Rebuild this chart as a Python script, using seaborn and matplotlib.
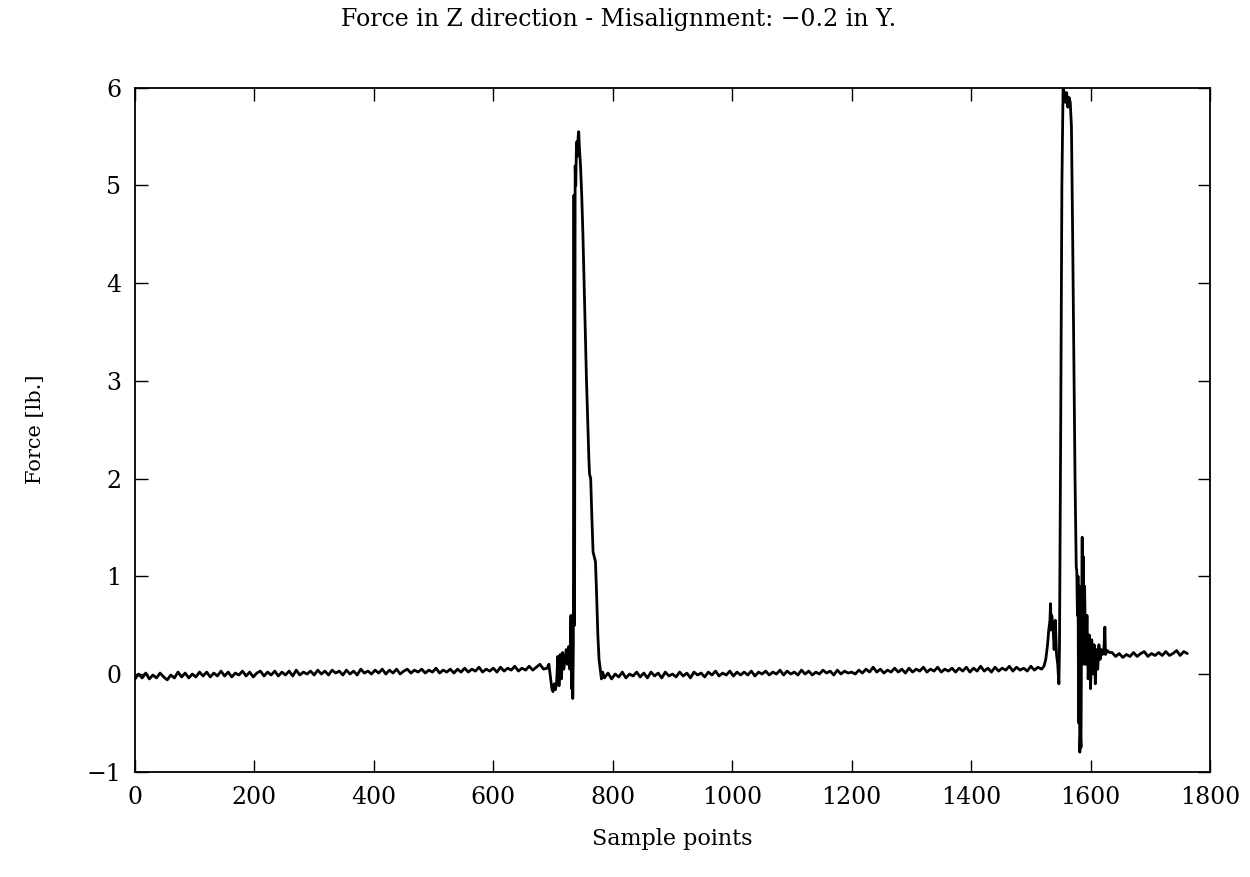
import numpy as np
import pandas as pd
import matplotlib
matplotlib.use("Agg")
import matplotlib.pyplot as plt
import seaborn as sns

# ---------------- data ----------------
# baseline before first contact, samples 0..684 every 6
base1_samples = list(range(0, 690, 6))
base1_force = [
    -0.05, 0.00, -0.04, 0.01, -0.05, -0.01, -0.04, 0.01, -0.03, -0.06,
    -0.01, -0.04, 0.02, -0.03, 0.01, -0.04, 0.00, -0.03, 0.02, -0.02,
    0.02, -0.03, 0.01, -0.02, 0.03, -0.02, 0.02, -0.03, 0.01, -0.01,
    0.03, -0.02, 0.02, -0.03, 0.01, 0.03, -0.02, 0.02, -0.01, 0.03,
    -0.02, 0.02, -0.01, 0.03, -0.02, 0.04, -0.01, 0.02, 0.00, 0.03,
    -0.01, 0.04, 0.00, 0.03, -0.01, 0.04, 0.01, 0.03, -0.01, 0.04,
    0.00, 0.03, -0.01, 0.05, 0.01, 0.03, 0.00, 0.04, 0.01, 0.05,
    0.00, 0.04, 0.01, 0.05, 0.00, 0.03, 0.05, 0.01, 0.04, 0.02,
    0.05, 0.01, 0.04, 0.02, 0.06, 0.01, 0.04, 0.02, 0.05, 0.01,
    0.05, 0.02, 0.06, 0.02, 0.05, 0.03, 0.07, 0.02, 0.05, 0.03,
    0.06, 0.02, 0.07, 0.03, 0.06, 0.04, 0.08, 0.03, 0.06, 0.04,
    0.08, 0.04, 0.07, 0.10, 0.05,
]

# first force event
event1_samples = [690, 693, 696, 698, 700, 702, 704, 706, 708, 710, 712, 714,
                  716, 718, 720, 722, 724, 726, 728, 730, 731, 732, 733, 734,
                  735, 736, 737, 738, 739, 740, 741, 742, 743, 744, 746, 748,
                  750, 752, 754, 756, 758, 760, 761, 763, 765, 767, 769, 771,
                  773, 775, 777, 779, 781, 783]
event1_force = [0.06, 0.10, -0.05, -0.15, -0.18, -0.10, -0.16, -0.08, 0.18, -0.12,
                0.20, -0.05, 0.22, 0.05, 0.15, 0.25, 0.10, 0.28, 0.05, 0.60,
                -0.15, 0.40, -0.25, 0.30, 4.90, 0.50, 5.20, 5.00, 5.35, 5.45,
                5.30, 5.50, 5.55, 5.40, 5.20, 4.90, 4.50, 4.00, 3.50, 3.00,
                2.60, 2.20, 2.05, 2.00, 1.60, 1.25, 1.20, 1.15, 0.80, 0.40,
                0.15, 0.05, -0.05, 0.02]

# baseline between events, samples 786..1518 every 6
base2_samples = list(range(786, 1519, 6))
base2_force = [
    -0.04, 0.01, -0.05, 0.00, -0.03, 0.02, -0.04, 0.00, -0.02, 0.02,
    -0.03, 0.01, -0.04, 0.02, -0.02, 0.01, -0.04, 0.02, -0.02, 0.00,
    -0.03, 0.02, -0.02, 0.01, -0.04, 0.02, -0.01, 0.01, -0.03, 0.02,
    -0.01, 0.03, -0.02, 0.01, -0.01, 0.03, -0.02, 0.02, -0.01, 0.02,
    -0.01, 0.03, -0.02, 0.02, 0.00, 0.03, -0.01, 0.02, 0.00, 0.04,
    -0.01, 0.03, 0.00, 0.02, -0.01, 0.04, 0.00, 0.03, -0.01, 0.02,
    0.00, 0.04, 0.01, 0.03, -0.01, 0.04, 0.00, 0.03, 0.01, 0.02,
    0.00, 0.04, 0.01, 0.05, 0.02, 0.07, 0.02, 0.05, 0.01, 0.04,
    0.02, 0.06, 0.02, 0.05, 0.01, 0.06, 0.02, 0.05, 0.03, 0.07,
    0.02, 0.05, 0.03, 0.07, 0.02, 0.05, 0.03, 0.06, 0.02, 0.06,
    0.03, 0.07, 0.02, 0.06, 0.03, 0.08, 0.03, 0.06, 0.02, 0.07,
    0.03, 0.06, 0.04, 0.08, 0.03, 0.07, 0.04, 0.06, 0.03, 0.08,
    0.04, 0.07, 0.05,
]

# second force event
event2_samples = [1522, 1525, 1528, 1530, 1532, 1533, 1534, 1535, 1537, 1539,
                  1541, 1543, 1545, 1547, 1548, 1550, 1552, 1554, 1556, 1558,
                  1560, 1562, 1564, 1566, 1568, 1570, 1572, 1574, 1576, 1577,
                  1578, 1579, 1580, 1581, 1582, 1583, 1584, 1585, 1586, 1587,
                  1588, 1589, 1590, 1592, 1594, 1596, 1598, 1600, 1602, 1604,
                  1606, 1608, 1610, 1612, 1614, 1616, 1618, 1620, 1622, 1624,
                  1625, 1628, 1632]
event2_force = [0.08, 0.15, 0.30, 0.45, 0.55, 0.72, 0.45, 0.60, 0.50, 0.25,
                0.55, 0.20, 0.10, -0.10, 0.30, 2.50, 5.00, 6.00, 5.95, 5.85,
                5.95, 5.80, 5.90, 5.85, 5.60, 4.50, 3.20, 2.00, 1.10, 1.05,
                0.60, 1.00, -0.50, 0.90, -0.80, -0.60, -0.75, 0.50, 1.40, 0.20,
                1.20, 0.10, 0.90, 0.10, 0.60, -0.05, 0.40, -0.15, 0.35, 0.00,
                0.30, -0.10, 0.25, 0.05, 0.30, 0.15, 0.25, 0.20, 0.22, 0.48,
                0.20, 0.24, 0.22]

# final plateau, samples 1636..1762 every 6
base3_samples = list(range(1636, 1763, 6))
base3_force = [0.22, 0.18, 0.21, 0.17, 0.20, 0.18, 0.22, 0.18, 0.21, 0.23, 0.18,
               0.21, 0.19, 0.22, 0.19, 0.23, 0.19, 0.21, 0.24, 0.19, 0.23, 0.21]

x_ticks = [0, 200, 400, 600, 800, 1000, 1200, 1400, 1600, 1800]
y_ticks = [-1, 0, 1, 2, 3, 4, 5, 6]

title_text = "Force in Z direction - Misalignment: \u22120.2 in Y."
x_label = "Sample points"
y_label = "Force [lb.]"

samples = base1_samples + event1_samples + base2_samples + event2_samples + base3_samples
force = base1_force + event1_force + base2_force + event2_force + base3_force
df = pd.DataFrame({"sample": samples, "force": force})

# ---------------- plot ----------------
sns.set_theme(style="ticks")
plt.rcParams["font.family"] = ["DejaVu Serif"]
plt.rcParams["mathtext.fontset"] = "dejavuserif"

fig = plt.figure(figsize=(12.5, 8.77), dpi=100)
ax = fig.add_axes([0.108, 0.12, 0.86, 0.78])

sns.lineplot(data=df, x="sample", y="force", ax=ax, color="black",
             linewidth=2.0, estimator=None, sort=False)

ax.set_xlim(0, 1800)
ax.set_ylim(-1, 6)
ax.set_xticks(x_ticks)
ax.set_yticks(y_ticks)
ax.set_yticklabels(["\u22121"] + [str(t) for t in y_ticks[1:]])
ax.tick_params(direction="in", length=9, width=1.0, top=True, right=True,
               labelsize=17, colors="black", pad=10)
for s in ax.spines.values():
    s.set_visible(True)
    s.set_linewidth(1.3)
    s.set_color("black")

ax.set_xlabel(x_label, fontsize=16, labelpad=14, color="black")
ax.set_ylabel(y_label, fontsize=15, labelpad=30, color="black")
fig.text(0.495, 0.978, title_text, ha="center", va="center", fontsize=17, color="black")

fig.savefig("out.png", dpi=100, facecolor="white")
